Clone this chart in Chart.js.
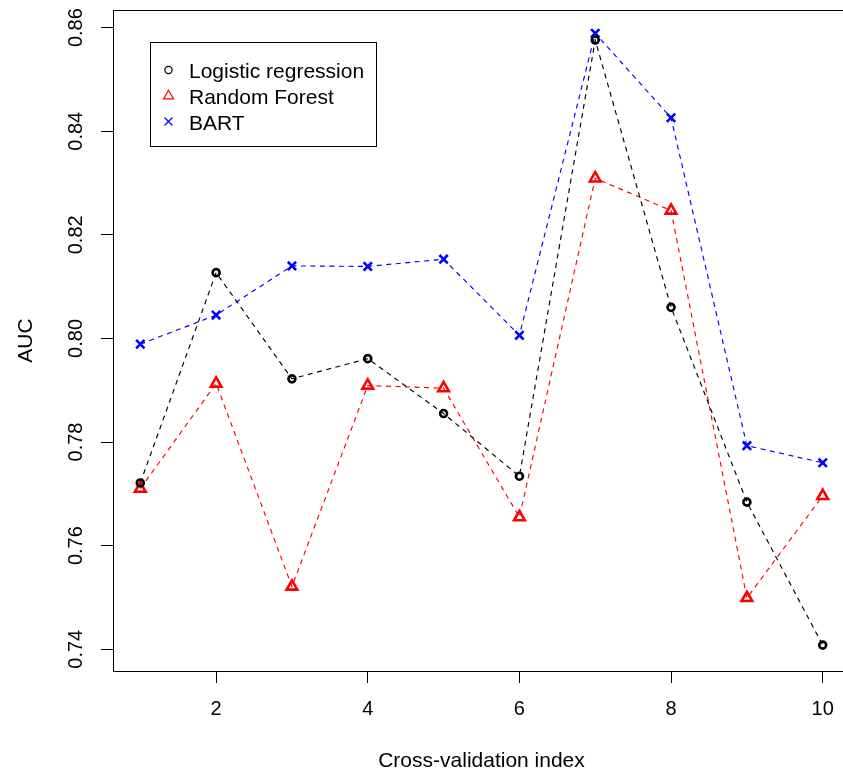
<!DOCTYPE html>
<html>
<head>
<meta charset="utf-8">
<script src="https://cdn.jsdelivr.net/npm/chart.js@4.4.0/dist/chart.umd.min.js"></script>
<style>
  html, body { margin: 0; padding: 0; background: #fff; overflow: hidden; }
  #wrap { width: 843px; height: 777px; overflow: hidden; position: relative; }
  canvas { display: block; }
</style>
</head>
<body>
<div id="wrap"><canvas id="c" width="860" height="777"></canvas></div>
<script>
// ---- data ----
const folds = [1, 2, 3, 4, 5, 6, 7, 8, 9, 10];
const logisticAUC = [0.7721, 0.8127, 0.7922, 0.7961, 0.7855, 0.7734, 0.8576, 0.8060, 0.7684, 0.7408];
const forestAUC   = [0.7710, 0.7913, 0.7521, 0.7909, 0.7904, 0.7655, 0.8309, 0.8247, 0.7499, 0.7696];
const bartAUC     = [0.7989, 0.8045, 0.8140, 0.8139, 0.8153, 0.8006, 0.8589, 0.8426, 0.7793, 0.7760];
const seriesNames = ['Logistic regression', 'Random Forest', 'BART'];
const xTicks = [2, 4, 6, 8, 10];
const yTicks = [0.74, 0.76, 0.78, 0.80, 0.82, 0.84, 0.86];
const yTickLabels = ['0.74', '0.76', '0.78', '0.80', '0.82', '0.84', '0.86'];
const xRange = [0.64, 10.36];
const yRange = [0.7358, 0.8634];

const FONT = "'Liberation Sans', Arial, sans-serif";
const pts = arr => folds.map((x, i) => ({ x: x, y: arr[i] }));

function mkSet(label, arr, color, style, radius) {
  return {
    label: label,
    data: pts(arr),
    showLine: true,
    borderColor: color,
    borderWidth: 1.15,
    borderDash: [5, 4.5],
    pointStyle: style,
    pointRadius: radius,
    pointHoverRadius: radius,
    pointBorderColor: color,
    pointBackgroundColor: 'rgba(0,0,0,0)',
    pointBorderWidth: 2.6,
    fill: false,
    tension: 0
  };
}

const decor = {
  id: 'decor',
  afterDraw(chart) {
    const ctx = chart.ctx;
    const a = chart.chartArea;
    const ys = chart.scales.y;
    ctx.save();
    // plot box
    ctx.strokeStyle = '#000';
    ctx.lineWidth = 1;
    ctx.setLineDash([]);
    ctx.strokeRect(a.left + 0.5, a.top + 0.5, a.right - a.left, a.bottom - a.top);
    // y tick labels (rotated, as in R)
    ctx.fillStyle = '#000';
    ctx.font = '20px ' + FONT;
    ctx.textAlign = 'center';
    ctx.textBaseline = 'alphabetic';
    yTicks.forEach((v, i) => {
      const py = ys.getPixelForValue(v);
      ctx.save();
      ctx.translate(82, py);
      ctx.rotate(-Math.PI / 2);
      ctx.fillText(yTickLabels[i], 0, 0);
      ctx.restore();
    });
    // legend
    const bx = 150, by = 42, bw = 226, bh = 104;
    ctx.fillStyle = '#fff';
    ctx.fillRect(bx, by, bw, bh);
    ctx.strokeStyle = '#000';
    ctx.lineWidth = 1;
    ctx.strokeRect(bx + 0.5, by + 0.5, bw, bh);
    const rows = [70, 96, 121.5];
    ctx.font = '21px ' + FONT;
    ctx.textAlign = 'left';
    chart.data.datasets.forEach((ds, i) => {
      const cy = rows[i], cx = 168.5;
      ctx.strokeStyle = ds.borderColor;
      ctx.lineWidth = 1.2;
      ctx.beginPath();
      if (ds.pointStyle === 'circle') {
        ctx.arc(cx, cy, 3.6, 0, Math.PI * 2);
      } else if (ds.pointStyle === 'triangle') {
        const r = 5.8;
        ctx.moveTo(cx, cy - r);
        ctx.lineTo(cx + r * 0.866, cy + r * 0.5);
        ctx.lineTo(cx - r * 0.866, cy + r * 0.5);
        ctx.closePath();
      } else {
        const h = 4;
        ctx.moveTo(cx - h, cy - h); ctx.lineTo(cx + h, cy + h);
        ctx.moveTo(cx + h, cy - h); ctx.lineTo(cx - h, cy + h);
      }
      ctx.stroke();
      ctx.fillStyle = '#000';
      ctx.fillText(ds.label, 189, cy + 8);
    });
    ctx.restore();
  }
};

new Chart(document.getElementById('c'), {
  type: 'scatter',
  data: {
    datasets: [
      mkSet(seriesNames[0], logisticAUC, '#000000', 'circle', 3.5),
      mkSet(seriesNames[1], forestAUC, '#FF0000', 'triangle', 6.2),
      mkSet(seriesNames[2], bartAUC, '#0000FF', 'crossRot', 5.9)
    ]
  },
  options: {
    responsive: false,
    animation: false,
    devicePixelRatio: 1,
    layout: { padding: { left: 0, right: 10, top: 10, bottom: 0 } },
    plugins: { legend: { display: false }, tooltip: { enabled: false } },
    scales: {
      x: {
        type: 'linear',
        min: xRange[0], max: xRange[1],
        afterBuildTicks: s => { s.ticks = xTicks.map(v => ({ value: v })); },
        afterFit: s => { s.height = 106; },
        ticks: {
          autoSkip: false, maxRotation: 0, minRotation: 0,
          color: '#000', padding: 14,
          font: { family: FONT, size: 20 },
          callback: v => String(v)
        },
        grid: { drawOnChartArea: false, drawTicks: true, tickLength: 12, color: '#000', lineWidth: 1 },
        border: { display: false },
        title: { display: true, text: 'Cross-validation index', color: '#000',
                 font: { family: FONT, size: 21 }, padding: { top: 0, bottom: 3.5 } }
      },
      y: {
        type: 'linear',
        min: yRange[0], max: yRange[1],
        afterBuildTicks: s => { s.ticks = yTicks.map(v => ({ value: v })); },
        afterFit: s => { s.width = 113; },
        ticks: { display: false },
        grid: { drawOnChartArea: false, drawTicks: true, tickLength: 12, color: '#000', lineWidth: 1 },
        border: { display: false },
        title: { display: true, text: 'AUC', color: '#000',
                 font: { family: FONT, size: 21 }, padding: { top: 13.5, bottom: 0 } }
      }
    }
  },
  plugins: [decor]
});
</script>
</body>
</html>
